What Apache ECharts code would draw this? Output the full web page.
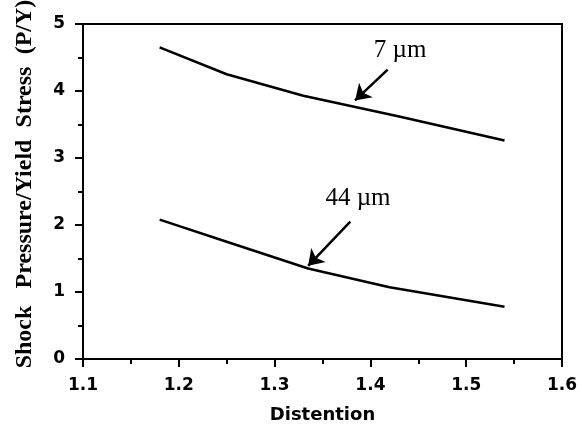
<!DOCTYPE html>
<html>
<head>
<meta charset="utf-8">
<script src="https://cdn.jsdelivr.net/npm/echarts@6/dist/echarts.min.js"></script>
<style>
  html, body { margin: 0; padding: 0; background: #fff; }
  #chart { width: 581px; height: 426px; }
</style>
</head>
<body>
<div id="chart"></div>
<script>
// distention vs shock pressure / yield stress
const curve7 = [[1.18, 4.65], [1.25, 4.25], [1.33, 3.93], [1.43, 3.62], [1.54, 3.26]];
const curve44 = [[1.18, 2.08], [1.25, 1.75], [1.335, 1.35], [1.42, 1.07], [1.54, 0.78]];

// annotation labels and arrows (tail -> tip), in data units
const labels = [
  { name: "7 \u00b5m", value: [1.431, 4.6] },
  { name: "44 \u00b5m", value: [1.387, 2.39] },
];
const arrows = [
  [[1.418, 4.32], [1.384, 3.86]],
  [[1.379, 2.05], [1.335, 1.39]],
];

// y title words, laid out separately (centre y in px)
const yTitleWords = [
  { text: "Shock", y: 337 },
  { text: "Pressure/Yield", y: 214 },
  { text: "Stress", y: 97 },
  { text: "(P/Y)", y: 27 },
];

const chart = echarts.init(document.getElementById("chart"));

const tickLabel = {
  color: "#000",
  fontFamily: "DejaVu Sans",
  fontSize: 17,
  fontWeight: "bold",
};

chart.setOption({
  animation: false,
  backgroundColor: "#fff",
  grid: {
    left: 83,
    right: 19,
    top: 24,
    bottom: 67,
    outerBoundsMode: "none",
    show: true,
    borderColor: "#000",
    borderWidth: 2,
  },
  xAxis: {
    type: "value",
    min: 1.1,
    max: 1.6,
    interval: 0.1,
    axisLine: { lineStyle: { color: "#000", width: 2 } },
    axisTick: { inside: false, length: 8, lineStyle: { color: "#000", width: 2 } },
    minorTick: { show: true, splitNumber: 2, length: 5, lineStyle: { color: "#000", width: 2 } },
    splitLine: { show: false },
    axisLabel: Object.assign({ margin: 18, formatter: (v) => v.toFixed(1) }, tickLabel),
    name: "Distention",
    nameLocation: "middle",
    nameGap: 47,
    nameTextStyle: {
      color: "#000",
      fontFamily: "DejaVu Sans",
      fontSize: 18,
      fontWeight: "bold",
    },
  },
  yAxis: {
    type: "value",
    min: 0,
    max: 5,
    interval: 1,
    axisLine: { lineStyle: { color: "#000", width: 2 } },
    axisTick: { inside: false, length: 8, lineStyle: { color: "#000", width: 2 } },
    minorTick: { show: true, splitNumber: 2, length: 5, lineStyle: { color: "#000", width: 2 } },
    splitLine: { show: false },
    axisLabel: Object.assign({ margin: 18 }, tickLabel),
  },
  graphic: yTitleWords.map((w) => ({
    type: "text",
    x: 25,
    y: w.y,
    rotation: Math.PI / 2,
    style: {
      text: w.text,
      fill: "#000",
      font: "bold 24px 'Liberation Serif'",
      align: "center",
      verticalAlign: "middle",
    },
  })),
  series: [
    {
      name: "7 um",
      type: "line",
      data: curve7,
      symbol: "none",
      smooth: false,
      lineStyle: { color: "#000", width: 2.5 },
    },
    {
      name: "44 um",
      type: "line",
      data: curve44,
      symbol: "none",
      smooth: false,
      lineStyle: { color: "#000", width: 2.5 },
    },
    {
      type: "lines",
      coordinateSystem: "cartesian2d",
      data: arrows.map((a) => ({ coords: a })),
      symbol: ["none", "arrow"],
      symbolSize: 15,
      lineStyle: { color: "#000", width: 2.5, opacity: 1 },
    },
    {
      type: "scatter",
      data: labels,
      symbolSize: 0,
      label: {
        show: true,
        position: "inside",
        formatter: (p) => p.name,
        color: "#000",
        opacity: 1,
        fontFamily: "Liberation Serif",
        fontSize: 25,
      },
    },
  ],
});
</script>
</body>
</html>
